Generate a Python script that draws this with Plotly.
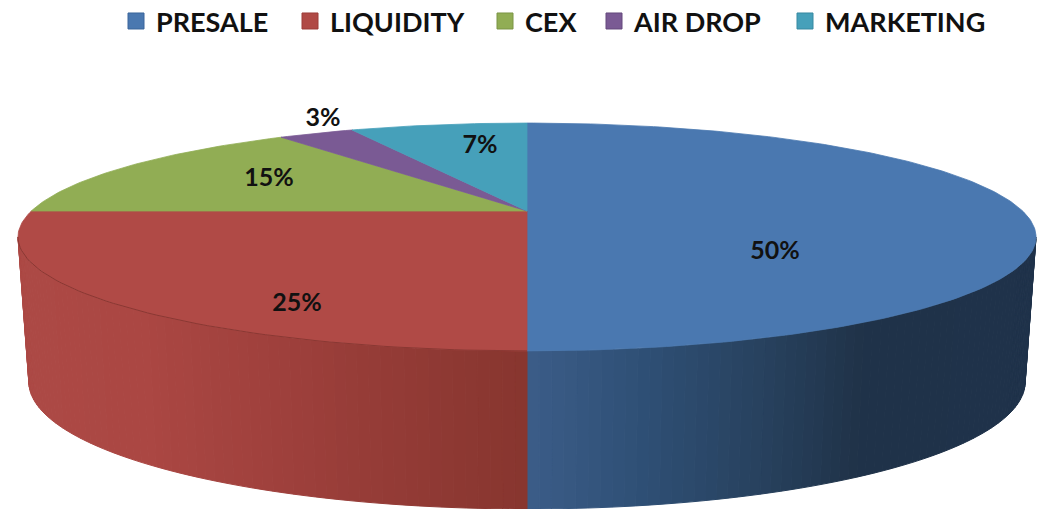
import numpy as np
import plotly.graph_objects as go

CATEGORIES = ["PRESALE", "LIQUIDITY", "CEX", "AIR DROP", "MARKETING"]
SHARES = [50, 25, 15, 3, 7]
LABELS = ["50%", "25%", "15%", "3%", "7%"]
COLORS = ["#4a78b0", "#b04a46", "#91ad54", "#7a5a94", "#46a0ba"]
LEGEND_EDGES = ["#3a659b", "#9c3c38", "#7b9444", "#64487c", "#3789a1"]
LEGEND_X = [116, 290, 485, 594, 785]
LABEL_ANCHORS = [(775, 253), (297, 305), (269, 180), (323, 120), (480, 147)]
WALL_STOPS_X = [[527, 640, 760, 860, 1040], [15, 150, 290, 400, 527]]
WALL_STOPS_C = [["#3c5d89", "#2f5076", "#28425f", "#203349", "#1f324b"],
                ["#ad4a46", "#ab4743", "#9e403c", "#933b36", "#88362f"]]

CX, K = 527.0, 0.228
TOP = dict(a=495.6, b=108.0, cy=211.0)
BOT = dict(a=485.0, b=120.4, cy=353.0)
FONT = "Lato"


def project(theta, p):
    s, c = np.sin(theta), np.cos(theta)
    w = 1 + K * c
    return CX + p["a"] * s / w, p["cy"] - p["b"] * c / w


def hex2rgb(h):
    return np.array([int(h[i:i + 2], 16) for i in (1, 3, 5)], float)


def wall_color(xm, i):
    xs, cs = WALL_STOPS_X[i], [hex2rgb(c) for c in WALL_STOPS_C[i]]
    r = [np.interp(xm, xs, [c[j] for c in cs]) for j in range(3)]
    return "rgb(%d,%d,%d)" % tuple(r)


fig = go.Figure()
edges = np.cumsum([0] + SHARES) / sum(SHARES) * 2 * np.pi
limit = np.arccos(-K)

# side wall (drawn first, only the part facing the viewer)
for i in range(2):
    lo = max(edges[i], limit if i == 0 else 0)
    hi = min(edges[i + 1], 2 * np.pi - limit)
    steps = np.linspace(lo, hi, 70)
    for t0, t1 in zip(steps[:-1], steps[1:]):
        tt = np.array([t0, t1])
        xa, ya = project(tt, TOP)
        xb, yb = project(tt[::-1], BOT)
        col = wall_color((xa.mean() + xb.mean()) / 2, i)
        fig.add_trace(go.Scatter(
            x=list(xa) + list(xb) + [xa[0]], y=list(ya) + list(yb) + [ya[0]],
            mode="lines", fill="toself", fillcolor=col,
            line=dict(color=col, width=1), showlegend=False, hoverinfo="skip"))

# top face
for i, col in enumerate(COLORS):
    tt = np.linspace(edges[i], edges[i + 1], max(8, SHARES[i] * 4))
    xs, ys = project(tt, TOP)
    fig.add_trace(go.Scatter(
        x=[CX] + list(xs) + [CX], y=[TOP["cy"]] + list(ys) + [TOP["cy"]],
        mode="lines", fill="toself", fillcolor=col,
        line=dict(color=col, width=0.8), showlegend=False, hoverinfo="skip"))

# dark rim on the front of the red slice
tt = np.linspace(np.pi, 2 * np.pi - limit, 60)
xs, ys = project(tt, TOP)
fig.add_trace(go.Scatter(x=xs, y=ys, mode="lines", line=dict(color="#8a3833", width=1),
                         showlegend=False, hoverinfo="skip"))

# legend entries, one positioned legend each
legend_layout = {}
for n, (name, col, edge, lx) in enumerate(zip(CATEGORIES, COLORS, LEGEND_EDGES, LEGEND_X)):
    key = "legend" if n == 0 else f"legend{n + 1}"
    fig.add_trace(go.Scatter(x=[None], y=[None], mode="markers", name=name, legend=key,
                             marker=dict(symbol="square", size=18, color=col,
                                         line=dict(color=edge, width=1))))
    legend_layout[key] = dict(
        x=lx / 1048, y=1.006, xanchor="left", yanchor="top", orientation="h",
        font=dict(family=FONT, size=27, color="#111111", weight=700),
        itemwidth=30, bgcolor="rgba(0,0,0,0)")

# value labels
fig.add_trace(go.Scatter(
    x=[p[0] for p in LABEL_ANCHORS], y=[p[1] for p in LABEL_ANCHORS],
    text=LABELS, mode="text", textposition="middle center", showlegend=False, hoverinfo="skip",
    textfont=dict(family=FONT, size=25, color="#111111", weight=700)))

fig.update_layout(
    width=1048, height=509, autosize=False,
    margin=dict(l=0, r=0, t=0, b=0, autoexpand=False),
    paper_bgcolor="white", plot_bgcolor="white",
    xaxis=dict(range=[0, 1048], visible=False, fixedrange=True),
    yaxis=dict(range=[509, 0], visible=False, fixedrange=True),
    **legend_layout,
)
fig.write_html("out.html", config={"displayModeBar": False},
               post_script="document.body.style.margin='0';document.documentElement.style.overflow='hidden';")
